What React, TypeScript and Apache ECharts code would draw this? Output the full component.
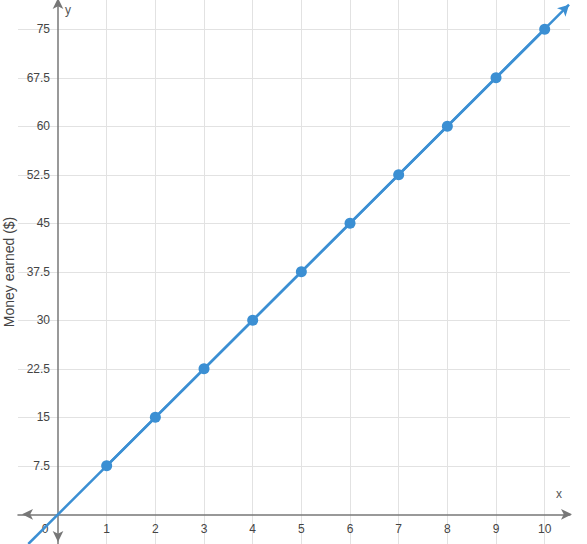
import React, { useEffect, useRef } from "react";
import * as echarts from "echarts";

const hours = [1, 2, 3, 4, 5, 6, 7, 8, 9, 10];
const moneyEarned = [7.5, 15, 22.5, 30, 37.5, 45, 52.5, 60, 67.5, 75];
const xTickValues = [1, 2, 3, 4, 5, 6, 7, 8, 9, 10];
const xLabelValues = [0, 1, 2, 3, 4, 5, 6, 7, 8, 9, 10];
const yTickValues = [7.5, 15, 22.5, 30, 37.5, 45, 52.5, 60, 67.5, 75];
const lineStart = [-0.61, -4.59];
const lineEnd = [10.5, 78.8];
const yAxisTitle = "Money earned ($)";

const BLUE = "#3b8fd3";

export default function App() {
  const ref = useRef<HTMLDivElement>(null);
  useEffect(() => {
    if (!ref.current) return;
    const chart = echarts.init(ref.current, undefined, { renderer: "svg" });
    chart.setOption({
      animation: false,
      grid: { left: 18, right: 17, top: 0, bottom: 0, containLabel: false, outerBoundsMode: "none" },
      xAxis: {
        type: "value",
        min: -0.822,
        max: 10.52,
        axisLine: {
          onZero: true,
          symbol: ["arrow", "arrow"],
          symbolSize: [8, 11],
          symbolOffset: [4, 2],
          lineStyle: { color: "#777", width: 1.5 },
        },
        axisTick: { show: false, customValues: xTickValues },
        axisLabel: {
          customValues: xLabelValues,
          margin: -21,
          color: "#444",
          fontSize: 12,
          fontFamily: "Liberation Sans, Arial, sans-serif",
          formatter: (v: number) => (v === 0 ? "{z|0}" : String(v)),
          rich: { z: { padding: [0, 26, 0, 0], color: "#444", fontSize: 12, fontFamily: "Liberation Sans, Arial, sans-serif" } },
        },
        splitLine: { show: true, lineStyle: { color: "#e2e2e2", width: 1 } },
      },
      yAxis: {
        type: "value",
        min: -4.59,
        max: 79.53,
        name: yAxisTitle,
        nameLocation: "middle",
        nameGap: -1,
        nameTextStyle: {
          fontSize: 14,
          color: "#444",
          fontFamily: "Liberation Sans, Arial, sans-serif",
        },
        axisLine: {
          onZero: true,
          symbol: ["arrow", "arrow"],
          symbolSize: [8, 11],
          symbolOffset: [2, 2],
          lineStyle: { color: "#777", width: 1.5 },
        },
        axisTick: { show: false, customValues: yTickValues },
        axisLabel: {
          customValues: yTickValues,
          margin: -32,
          color: "#444",
          fontSize: 12,
          fontFamily: "Liberation Sans, Arial, sans-serif",
        },
        splitLine: { show: true, lineStyle: { color: "#e2e2e2", width: 1 } },
      },
      graphic: [
        {
          type: "text",
          left: 65,
          top: 4,
          style: { text: "y", fontSize: 12, fill: "#555", fontFamily: "Liberation Sans, Arial, sans-serif" },
        },
        {
          type: "text",
          left: 556,
          top: 488,
          style: { text: "x", fontSize: 12, fill: "#555", fontFamily: "Liberation Sans, Arial, sans-serif" },
        },
      ],
      series: [
        {
          type: "line",
          data: hours.map((h, i) => [h, moneyEarned[i]]),
          symbol: "circle",
          symbolSize: 11,
          itemStyle: { color: BLUE },
          lineStyle: { color: BLUE, width: 2.5 },
          z: 5,
          markLine: {
            silent: true,
            symbol: ["none", "arrow"],
            symbolSize: [9, 11],
            label: { show: false },
            lineStyle: { color: BLUE, width: 2.5, type: "solid" },
            data: [[{ coord: lineStart }, { coord: lineEnd }]],
          },
        },
      ],
    });
    return () => chart.dispose();
  }, []);
  return <div ref={ref} style={{ width: 587, height: 544, position: "absolute", left: 0, top: 0 }} />;
}
